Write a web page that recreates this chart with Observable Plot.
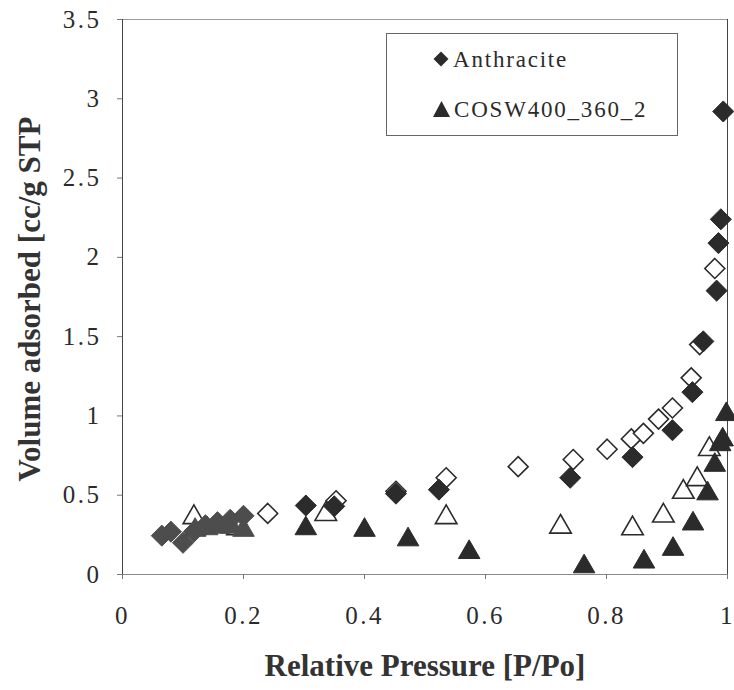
<!DOCTYPE html>
<html><head><meta charset="utf-8">
<script src="https://cdn.jsdelivr.net/npm/d3@7"></script>
<script src="https://cdn.jsdelivr.net/npm/@observablehq/plot@0.6"></script>
<style>
body{margin:0;background:#fff;}
#wrap{position:relative;width:734px;height:690px;font-family:"Liberation Serif","Times New Roman",serif;color:#2b2b2b;}
g[aria-label="x-axis tick label"] text, g[aria-label="y-axis tick label"] text{letter-spacing:2.5px;}
g[aria-label="axis-title"] text{letter-spacing:1.6px;}
#legend{position:absolute;left:386px;top:33px;width:290px;height:101px;border:1px solid #666;background:#fff;}
#legend .row{position:absolute;left:46px;font-size:23px;letter-spacing:1.8px;white-space:nowrap;line-height:1;}
#legend svg{vertical-align:baseline;margin-right:4px;}
</style></head>
<body><div id="wrap"></div>
<script>
const xTicks=[0,0.2,0.4,0.6,0.8,1];
const yTicks=[0,0.5,1,1.5,2,2.5,3,3.5];
const xTitle="Relative Pressure [P/Po]";
const yTitle="Volume adsorbed [cc/g STP";
const seriesNames=["Anthracite","COSW400_360_2"];

// Anthracite adsorption (filled diamonds)
const anthAdsX=[0.065,0.08,0.10,0.118,0.137,0.157,0.178,0.20,0.303,0.35,0.452,0.523,0.74,0.843,0.909,0.942,0.96,0.982,0.985,0.989,0.993];
const anthAdsY=[0.245,0.27,0.20,0.27,0.31,0.33,0.345,0.37,0.435,0.43,0.51,0.535,0.61,0.74,0.91,1.15,1.47,1.79,2.09,2.24,2.92];
// Anthracite desorption (open diamonds)
const anthDesX=[0.24,0.353,0.452,0.535,0.654,0.745,0.801,0.841,0.861,0.886,0.909,0.94,0.954,0.979];
const anthDesY=[0.385,0.465,0.525,0.61,0.68,0.725,0.79,0.855,0.89,0.98,1.05,1.24,1.45,1.93];
// COSW400_360_2 adsorption (filled triangles)
const coswAdsX=[0.12,0.14,0.16,0.18,0.20,0.303,0.40,0.472,0.573,0.763,0.862,0.91,0.943,0.967,0.979,0.988,0.992,0.998];
const coswAdsY=[0.28,0.29,0.30,0.30,0.28,0.29,0.28,0.22,0.14,0.05,0.08,0.16,0.32,0.51,0.69,0.82,0.85,1.01];
// COSW400_360_2 desorption (open triangles)
const coswDesX=[0.118,0.19,0.336,0.535,0.724,0.843,0.894,0.927,0.95,0.97];
const coswDesY=[0.36,0.29,0.38,0.36,0.30,0.29,0.37,0.52,0.60,0.79];

const rows=(xs,ys)=>xs.map((x,i)=>({x,y:ys[i]}));
const ink="#2b2b2b";
const fmt=d=>String(d);
const shade=d=>d.x<0.23?"#4d4d4d":ink;

const chart=Plot.plot({
  width:734,height:690,
  marginLeft:122,marginRight:7,marginTop:19,marginBottom:116,
  x:{domain:[0,1]},
  y:{domain:[0,3.5]},
  style:{fontFamily:'"Liberation Serif","Times New Roman",serif',color:"#2b2b2b",background:"#fff"},
  marks:[
    Plot.frame({stroke:"#9a9a9a"}),
    Plot.ruleX([xTicks[0]],{stroke:"#444"}),
    Plot.ruleX([xTicks[xTicks.length-1]],{stroke:"#444"}),
    Plot.ruleY([yTicks[0]],{stroke:"#888"}),
    Plot.axisX({ticks:xTicks,tickFormat:fmt,tickSize:5,tickPadding:27,fontSize:25,label:null,stroke:"#777"}),
    Plot.axisY({ticks:yTicks,tickFormat:fmt,tickSize:5,tickPadding:16,fontSize:25,label:null,stroke:"#777"}),
    Plot.dot(rows(anthDesX,anthDesY),{x:"x",y:"y",symbol:"diamond2",r:9,fill:"white",stroke:ink,strokeWidth:1.6}),
    Plot.dot(rows(coswDesX,coswDesY),{x:"x",y:"y",symbol:"triangle",r:8,fill:"white",stroke:ink,strokeWidth:1.6}),
    Plot.dot(rows(coswAdsX,coswAdsY),{x:"x",y:"y",symbol:"triangle",r:8,fill:shade,stroke:shade,strokeWidth:1}),
    Plot.dot(rows(anthAdsX,anthAdsY),{x:"x",y:"y",symbol:"diamond2",r:9.5,fill:shade,stroke:shade,strokeWidth:1}),
    Plot.text([xTitle],{frameAnchor:"bottom",textAnchor:"middle",lineAnchor:"middle",dy:92,text:d=>d,fontSize:31,fontWeight:"bold",fill:"#333",ariaLabel:"axis-title"}),
    Plot.text([yTitle],{frameAnchor:"left",textAnchor:"middle",lineAnchor:"middle",rotate:-90,dx:-92,dy:2,text:d=>d,fontSize:31,fontWeight:"bold",fill:"#333",ariaLabel:"axis-title"})
  ]
});
const wrap=document.getElementById("wrap");
wrap.appendChild(chart);

const legend=document.createElement("div");
legend.id="legend";
const diamondSvg='<svg width="16" height="16" viewBox="-8 -8 16 16"><polygon points="0,-7.5 7.5,0 0,7.5 -7.5,0" fill="'+ink+'"/></svg>';
const triSvg='<svg width="17" height="16" viewBox="-8.5 -8 17 16"><polygon points="0,-8 8.5,8 -8.5,8" fill="'+ink+'"/></svg>';
legend.innerHTML=
  '<div class="row" style="top:14px">'+diamondSvg+seriesNames[0]+'</div>'+
  '<div class="row" style="top:64px">'+triSvg+seriesNames[1]+'</div>';
wrap.appendChild(legend);
</script>
</body></html>
